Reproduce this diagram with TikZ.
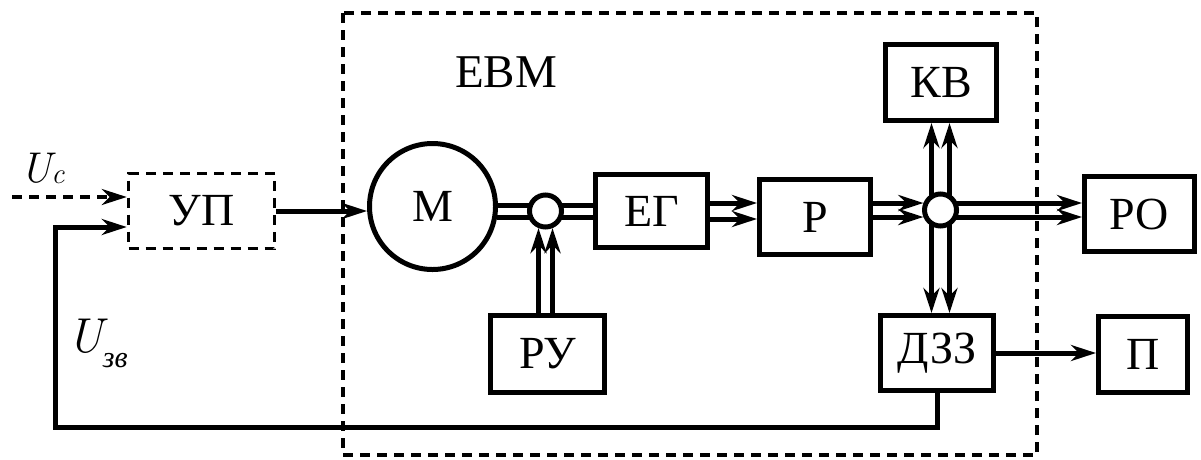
\documentclass[tikz,border=0pt]{standalone}
\usepackage{fontspec}
\setmainfont{Liberation Serif}
\newfontfamily\tnr{Liberation Serif}
\newfontfamily\lmr{Latin Modern Roman}
\usetikzlibrary{arrows.meta,calc}
\begin{document}
\begin{tikzpicture}[x=1pt,y=-1pt,
  ln/.style={line width=5pt},
  tip/.style={-{Stealth[length=25pt,width=16pt,inset=8pt]}},
  ar/.style={ln,tip},
  dsh/.style={line width=3.5pt,dash pattern=on 10pt off 7pt},
  blk/.style={draw,line width=5pt,inner sep=0pt,font=\tnr\fontsize{46}{50}\selectfont},
  junc/.style={draw,circle,line width=5pt,fill=white,inner sep=0pt,minimum size=32pt},
  lbl/.style={inner sep=0pt,font=\tnr\fontsize{47}{50}\selectfont}]
\useasboundingbox (0,0) rectangle (1201,459);
% dashed computer boundary
\draw[dsh] (343,13) rectangle (1037,455);
\node[lbl] (evm) at (506,72) {ЕВМ};
% blocks
\node[blk,dsh,minimum width=146pt,minimum height=75pt] (UP) at (201.5,211) {УП};
\node[blk,circle,minimum size=126pt] (M) at (432.5,206.5) {М};
\node[blk,minimum width=112pt,minimum height=73pt] (EG) at (651.5,211) {ЕГ};
\node[blk,minimum width=111pt,minimum height=75pt] (R) at (815,217) {Р};
\node[blk,minimum width=111pt,minimum height=76pt] (KV) at (941,82.5) {КВ};
\node[blk,minimum width=110pt,minimum height=75pt] (RO) at (1139.5,214) {РО};
\node[blk,minimum width=113pt,minimum height=75pt] (DZZ) at (937,353) {ДЗЗ};
\node[blk,minimum width=89pt,minimum height=76pt] (P) at (1143,354.5) {П};
\node[blk,minimum width=114pt,minimum height=77pt] (RU) at (547.5,354) {РУ};
\coordinate (j1) at (545.5,211);
\coordinate (j2) at (940.5,210);
\coordinate (uc0) at (12,197);
\coordinate (fb) at (55,427);
% labels
\node[inner sep=0pt,anchor=base west] (Uc) at (20,182)
  {\lmr\fontsize{43}{46}\selectfont\itshape U\raisebox{-1pt}{\fontsize{29}{30}\selectfont c}};
\node[inner sep=0pt,anchor=base west] (Uzv) at (67,352)
  {\lmr\fontsize{49}{52}\selectfont\itshape U\raisebox{-15pt}{\tnr\fontsize{30}{32}\selectfont\itshape зв}};
% inputs to UP
\draw[dsh,tip] (uc0) -- ($(UP.west)+(0,-14)$);
\draw[ar] (DZZ.south) |- (fb) |- ($(UP.west)+(0,16)$);
\draw[ar] (UP.east) -- (UP.east -| M.west);
% M -> junction 1 -> EG
\draw[ln] ($(M.east |- j1)+(-1,-6)$) -- ($(j1)+(0,-6)$);
\draw[ln] ($(M.east |- j1)+(-1,6)$) -- ($(j1)+(0,6)$);
\draw[ln] ($(j1)+(0,-6)$) -- ($(EG.west)+(0,-6)$);
\draw[ln] ($(j1)+(0,6)$) -- ($(EG.west)+(0,6)$);
% RU -> junction 1
\draw[ar] ($(RU.north -| j1)+(-7,0)$) -- ($(j1)+(-7,17.1)$);
\draw[ar] ($(RU.north -| j1)+(7,0)$) -- ($(j1)+(7,17.1)$);
% EG -> R
\draw[ar] ($(EG.east)+(0,-8)$) -- ($(EG.east -| R.west)+(0,-8)$);
\draw[ar] ($(EG.east)+(0,8)$) -- ($(EG.east -| R.west)+(0,8)$);
% R -> junction 2
\draw[ar] ($(R.east |- j2)+(0,-7)$) -- ($(j2)+(-17.1,-7)$);
\draw[ar] ($(R.east |- j2)+(0,7)$) -- ($(j2)+(-17.1,7)$);
% junction 2 -> KV, DZZ, RO
\draw[ar] ($(j2)+(-9,0)$) -- ($(KV.south -| j2)+(-9,0)$);
\draw[ar] ($(j2)+(9,0)$) -- ($(KV.south -| j2)+(9,0)$);
\draw[ar] ($(j2)+(-9,0)$) -- ($(DZZ.north -| j2)+(-9,0)$);
\draw[ar] ($(j2)+(9,0)$) -- ($(DZZ.north -| j2)+(9,0)$);
\draw[ar] ($(j2)+(0,-7)$) -- ($(RO.west |- j2)+(0,-7)$);
\draw[ar] ($(j2)+(0,7)$) -- ($(RO.west |- j2)+(0,7)$);
% DZZ -> P
\draw[ar] (DZZ.east) -- (DZZ.east -| P.west);
% junction circles on top
\node[junc] (c1) at (j1) {};
\node[junc] (c2) at (j2) {};
\end{tikzpicture}
\end{document}
